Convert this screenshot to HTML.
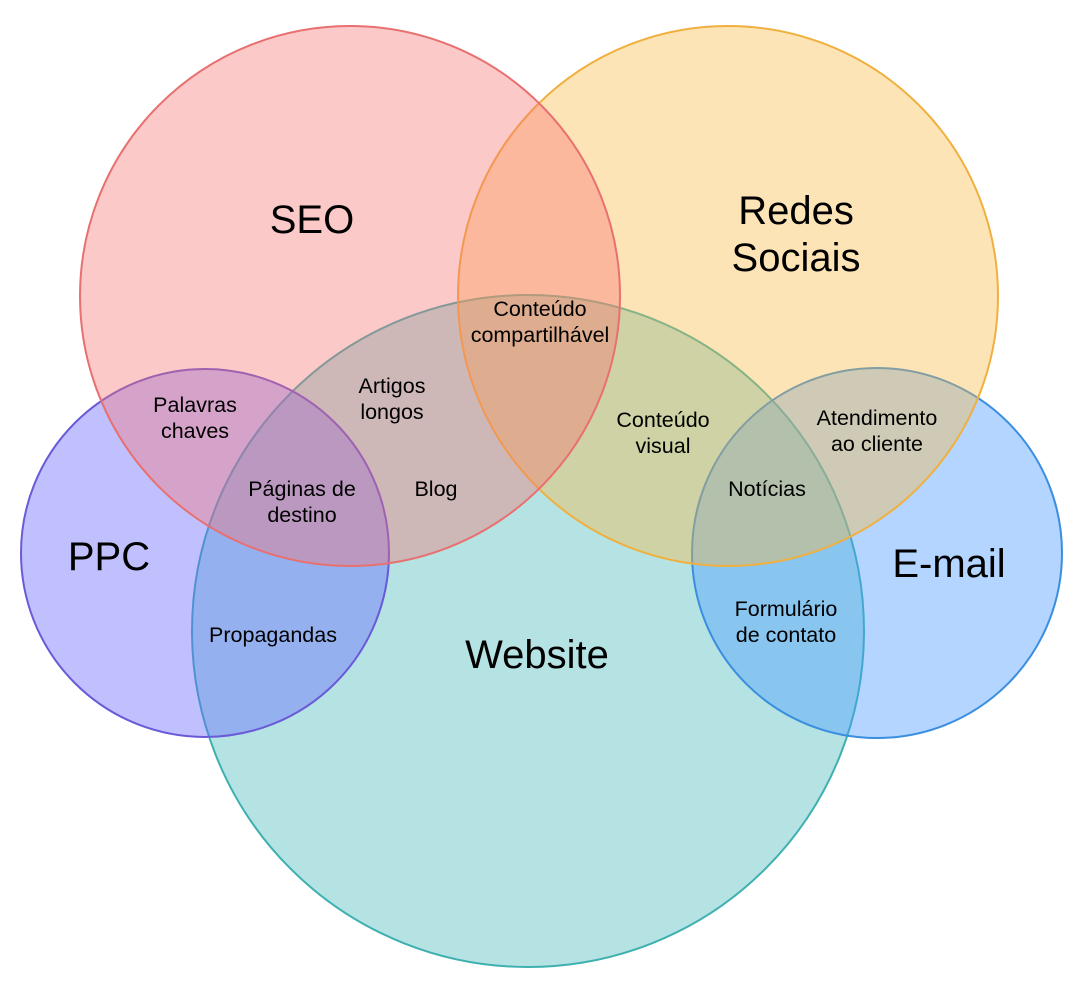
<!DOCTYPE html>
<html><head><meta charset="utf-8"><style>
html,body{margin:0;padding:0;background:#fff;}
svg text{font-family:"Liberation Sans",Arial,sans-serif;fill:#000;text-anchor:middle;}
</style></head><body>
<svg width="1087" height="993" viewBox="0 0 1087 993" xmlns="http://www.w3.org/2000/svg">
<rect width="1087" height="993" fill="#fff"/>
<circle cx="528" cy="631" r="336" fill="#4fbcbc" fill-opacity="0.42" stroke="#3fb0b0" stroke-width="2"/>
<circle cx="205" cy="553" r="184" fill="#6a6aff" fill-opacity="0.42" stroke="#6a5ad8" stroke-width="2"/>
<circle cx="877" cy="553" r="185" fill="#4a9cff" fill-opacity="0.42" stroke="#3a8ee0" stroke-width="2"/>
<circle cx="728" cy="296" r="270" fill="#f9b840" fill-opacity="0.38" stroke="#f0b040" stroke-width="2"/>
<circle cx="350" cy="296" r="270" fill="#f87070" fill-opacity="0.38" stroke="#e87070" stroke-width="2"/>
<g font-size="40">
<text x="312" y="233">SEO</text>
<text x="796" y="224">Redes</text>
<text x="796" y="271">Sociais</text>
<text x="109" y="570">PPC</text>
<text x="949" y="577">E-mail</text>
<text x="537" y="668">Website</text>
</g>
<g font-size="21.5">
<text x="540" y="316">Conteúdo</text><text x="540" y="342">compartilhável</text>
<text x="392" y="393">Artigos</text><text x="392" y="419">longos</text>
<text x="195" y="412">Palavras</text><text x="195" y="438">chaves</text>
<text x="663" y="427">Conteúdo</text><text x="663" y="453">visual</text>
<text x="877" y="425">Atendimento</text><text x="877" y="451">ao cliente</text>
<text x="302" y="496">Páginas de</text><text x="302" y="522">destino</text>
<text x="436" y="496">Blog</text>
<text x="767" y="496">Notícias</text>
<text x="273" y="642">Propagandas</text>
<text x="786" y="616">Formulário</text><text x="786" y="642">de contato</text>
</g>
</svg>
</body></html>
